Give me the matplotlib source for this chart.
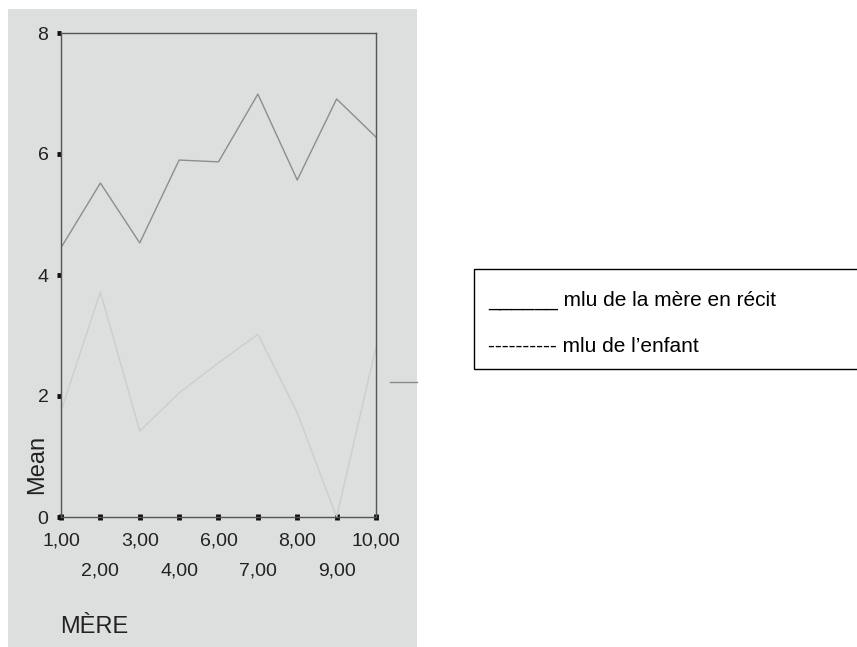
import matplotlib
matplotlib.use("Agg")
import matplotlib.pyplot as plt
from matplotlib.patches import Rectangle
from matplotlib.lines import Line2D

plt.rcParams['font.family'] = ['Liberation Sans', 'DejaVu Sans']

# donnees
mere = ["1,00", "2,00", "3,00", "4,00", "6,00", "7,00", "8,00", "9,00", "10,00"]
mlu_mere = [4.45, 5.52, 4.53, 5.90, 5.87, 6.99, 5.57, 6.91, 6.28]
mlu_enfant = [1.75, 3.72, 1.42, 2.05, 2.55, 3.02, 1.72, 0.0, 2.81]
yticks = [0, 2, 4, 6, 8]

fig = plt.figure(figsize=(8.57, 6.47), dpi=100)
fig.patch.set_facecolor("white")

# fond gris du scan
fig.patches.append(Rectangle((8/857, 0), (417-8)/857, 1-9/647, transform=fig.transFigure,
                             facecolor="#dcdfdd", edgecolor="none", zorder=-5))

ax = fig.add_axes([61/857, 1-517/647, 315/857, 484/647])
ax.set_facecolor("none")
ax.set_zorder(2)
x = list(range(len(mere)))
ax.plot(x, mlu_mere, color="#8c8e8c", lw=1.0)
ax.plot(x, mlu_enfant, color="#cbcecc", lw=1.0)

ax.set_xlim(0, len(mere)-1)
ax.set_ylim(0, 8)
ax.set_yticks(yticks)
ax.set_yticklabels([str(v) for v in yticks])
ax.set_xticks(x)
ax.set_xticklabels([m if i % 2 == 0 else "\n" + m for i, m in enumerate(mere)])
for lab in ax.get_xticklabels():
    lab.set_linespacing(2.0)

for s in ax.spines.values():
    s.set_color("#555555")
    s.set_linewidth(1.0)

ax.tick_params(axis="y", direction="out", length=3, width=3.5, color="#111111",
               labelsize=14, labelcolor="#222222", pad=6)
ax.tick_params(axis="x", direction="inout", length=4, width=3.5, color="#111111",
               labelsize=14, labelcolor="#222222", pad=9)

fig.text(37/857, 1-464/647, "Mean", rotation=90, ha="center", va="center",
         fontsize=17, color="#222222")
fig.text(60/857, 1-627/647, "MÈRE", ha="left", va="center", fontsize=17, color="#222222")

# bout de trait a droite du scan
fig.lines.append(Line2D([390/857, 417/857], [1-382/647, 1-382/647], transform=fig.transFigure,
                        color="#8a8a8a", lw=1.0))

# encadre de legende
fig.patches.append(Rectangle((474/857, 1-369/647), 400/857, 100/647, transform=fig.transFigure,
                             facecolor="white", edgecolor="black", lw=1.0, clip_on=False))
fig.text(488/857, 1-300/647, "______ mlu de la mère en récit", ha="left", va="center",
         fontsize=15, color="black")
fig.text(488/857, 1-346/647, "---------- mlu de l\u2019enfant", ha="left", va="center",
         fontsize=15, color="black")

fig.savefig("out.png", dpi=100)
